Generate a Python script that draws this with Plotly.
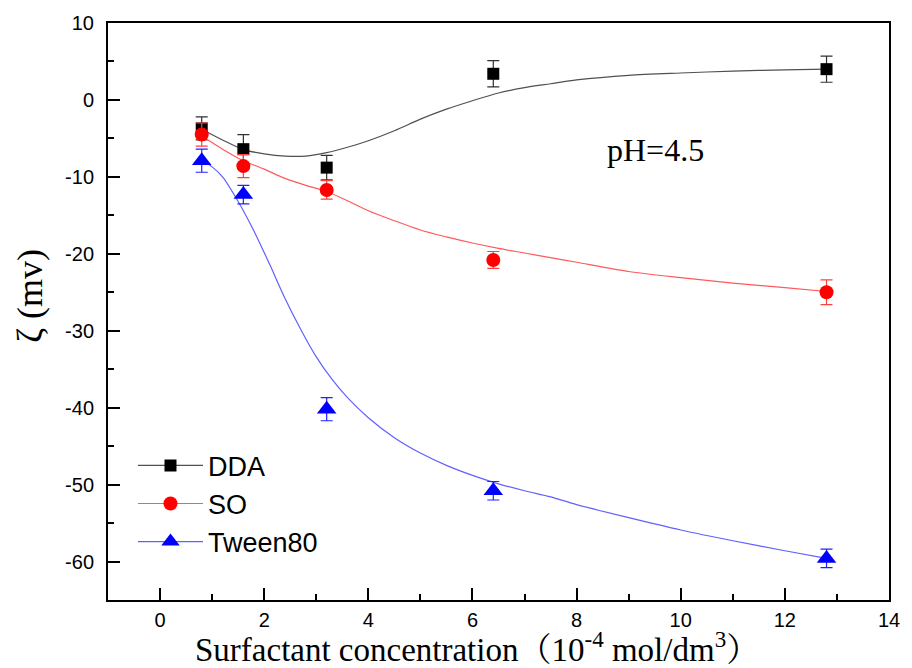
import plotly.graph_objects as go

# Surfactant concentration (10^-4 mol/dm^3)
conc = [0.8, 1.6, 3.2, 6.4, 12.8]

# Zeta potential (mV) with standard deviations
dda = [-3.7, -6.4, -8.8, 3.4, 4.0]
dda_err = [1.5, 1.9, 1.6, 1.7, 1.7]
so = [-4.5, -8.6, -11.7, -20.8, -25.0]
so_err = [1.5, 1.5, 1.2, 1.1, 1.6]
tween = [-7.9, -12.3, -40.2, -50.8, -59.6]
tween_err = [1.5, 1.2, 1.5, 1.2, 1.2]

# Smoothed fit curves
dda_fit_x = [0.8, 1.2, 1.6, 2.0, 2.4, 2.8, 3.2, 3.6, 4.0, 4.5, 5.0, 5.5, 6.0,
             6.5, 7.0, 7.5, 8.0, 9.0, 10.0, 11.0, 12.0, 12.8]
dda_fit_y = [-3.8, -5.2, -6.45, -7.0, -7.3, -7.3, -6.85, -6.15, -5.3, -4.0, -2.5,
             -1.2, -0.1, 0.9, 1.6, 2.1, 2.6, 3.2, 3.5, 3.75, 3.9, 4.0]
so_fit_x = [0.8, 1.2, 1.6, 2.0, 2.4, 2.8, 3.2, 3.6, 4.0, 4.5, 5.0, 5.5, 6.0,
            6.5, 7.0, 7.5, 8.0, 9.0, 10.0, 11.0, 12.0, 12.8]
so_fit_y = [-4.7, -6.4, -7.9, -9.0, -10.2, -11.1, -11.9, -13.1, -14.4, -15.7, -16.9,
            -17.8, -18.6, -19.3, -19.9, -20.5, -21.1, -22.3, -23.1, -23.8, -24.4, -24.9]
tween_fit_x = [0.8, 1.0, 1.2, 1.5, 1.8, 2.1, 2.4, 2.7, 3.0, 3.3, 3.6, 4.0, 4.5,
               5.0, 5.5, 6.0, 6.5, 7.0, 7.5, 8.0, 9.0, 10.0, 11.0, 12.0, 12.8]
tween_fit_y = [-7.8, -8.7, -10.0, -13.2, -17.0, -21.3, -25.8, -29.8, -33.4, -36.3,
               -38.7, -41.3, -43.9, -45.9, -47.5, -48.8, -49.9, -50.8, -51.6, -52.6,
               -54.3, -55.9, -57.3, -58.6, -59.6]

x_ticks = [0, 2, 4, 6, 8, 10, 12, 14]
x_tick_text = ["0", "2", "4", "6", "8", "10", "12", "14"]
y_ticks = [10, 0, -10, -20, -30, -40, -50, -60]
y_tick_text = ["10", "0", "-10", "-20", "-30", "-40", "-50", "-60"]

series = [
    ("DDA", dda, dda_err, dda_fit_x, dda_fit_y, "black", "#505050", "#303030", "square", 12),
    ("SO", so, so_err, so_fit_x, so_fit_y, "#ff0000", "#ff5a5a", "#ff4040", "circle", 14),
    ("Tween80", tween, tween_err, tween_fit_x, tween_fit_y, "#0000ff", "#6060ff", "#2020ff",
     "triangle-up", 17),
]

serif = "Liberation Serif, Times New Roman, Noto Serif CJK SC, Noto Sans CJK SC, serif"
sans = "Liberation Sans, Arial, sans-serif"

fig = go.Figure()
for name, y, err, fx, fy, mcol, lcol, ecol, sym, size in series:
    fig.add_trace(go.Scatter(
        x=fx, y=fy, mode="lines", line=dict(color=lcol, width=1.2, shape="spline", smoothing=0.8),
        showlegend=False, hoverinfo="skip"))
    fig.add_trace(go.Scatter(
        x=conc, y=y, mode="markers",
        marker=dict(symbol=sym, size=size, color=mcol, line=dict(width=0)),
        error_y=dict(type="data", array=err, visible=True, color=ecol, thickness=1.2, width=6),
        showlegend=False))
    # legend entry with line and marker
    fig.add_trace(go.Scatter(
        x=[None], y=[None], mode="lines+markers", name=name,
        line=dict(color=lcol, width=1.2),
        marker=dict(symbol=sym, size=size, color=mcol, line=dict(width=0))))

axis_common = dict(
    showgrid=False, zeroline=False, showline=True, linecolor="black", linewidth=2,
    mirror=True, ticks="inside", tickcolor="black", tickwidth=1.5, ticklen=12,
    tickfont=dict(family=sans, size=20, color="black"),
)

fig.update_xaxes(range=[-1, 14], tickvals=x_ticks, ticktext=x_tick_text, ticklabelstandoff=1,
                 minor=dict(ticks="inside", dtick=1, ticklen=6, tickwidth=1.5, tickcolor="black"),
                 **axis_common)
fig.update_yaxes(range=[-65, 10], tickvals=y_ticks, ticktext=y_tick_text, ticklabelstandoff=8,
                 minor=dict(ticks="inside", dtick=5, ticklen=6, tickwidth=1.5, tickcolor="black"),
                 **axis_common)

fig.add_annotation(
    text="Surfactant concentration（10<sup>-4</sup> mol/dm<sup>3</sup>）",
    xref="paper", yref="paper", x=0.473, y=-0.082, xanchor="center", yanchor="middle",
    showarrow=False, font=dict(family=serif, size=33, color="black"))
fig.add_annotation(
    text="ζ (mv)", xref="paper", yref="paper", x=-0.1, y=0.527, textangle=-90,
    xanchor="center", yanchor="middle", showarrow=False,
    font=dict(family=serif, size=36, color="black"))
fig.add_annotation(
    text="pH=4.5", x=9.52, y=-6.5, xanchor="center", yanchor="middle", showarrow=False,
    font=dict(family=serif, size=32, color="black"))

fig.update_layout(
    width=912, height=668,
    margin=dict(l=108, r=17, t=19, b=68),
    paper_bgcolor="white", plot_bgcolor="white",
    legend=dict(x=0.032, y=0.275, xanchor="left", yanchor="top", bgcolor="rgba(0,0,0,0)",
                font=dict(family=sans, size=27, color="black"), itemwidth=65,
                tracegroupgap=0),
)

fig.write_html("out.html")
